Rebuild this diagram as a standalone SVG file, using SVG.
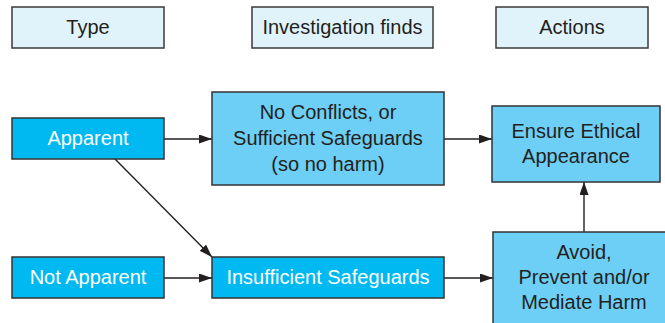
<svg xmlns="http://www.w3.org/2000/svg" width="665" height="323" viewBox="0 0 665 323">
<defs>
<style>
.hdr{fill:#e0f3fb;stroke:#3a3a3a;stroke-width:1.5}
.typ{fill:#00b9f1;stroke:#333;stroke-width:1.5}
.act{fill:#6dcff6;stroke:#333;stroke-width:1.5}
text{font-family:"Liberation Sans",Arial,sans-serif;font-size:20px;text-anchor:middle}
.dk{fill:#231f20}
.wt{fill:#ffffff}
.conn{stroke:#231f20;stroke-width:1.4;fill:none;marker-end:url(#ah)}
</style>
<marker id="ah" viewBox="0 0 13 9" refX="13" refY="4.5" markerWidth="13" markerHeight="9" markerUnits="userSpaceOnUse" orient="auto">
<path d="M0,0 L13,4.5 L0,9 Z" fill="#231f20"/>
</marker>
</defs>
<rect width="665" height="323" fill="#ffffff"/>
<g id="hdr-type"><rect class="hdr" x="12" y="7" width="152" height="41"/><text class="dk" x="88" y="34">Type</text></g>
<g id="hdr-inv"><rect class="hdr" x="252" y="7" width="181" height="41"/><text class="dk" x="342.5" y="34">Investigation finds</text></g>
<g id="hdr-act"><rect class="hdr" x="496" y="7" width="152" height="41"/><text class="dk" x="572" y="34">Actions</text></g>
<g id="connectors">
<line class="conn" x1="164" y1="139" x2="212" y2="139"/>
<line class="conn" x1="444" y1="139" x2="492" y2="139"/>
<line class="conn" x1="115" y1="159" x2="212" y2="257"/>
<line class="conn" x1="164" y1="278" x2="212" y2="278"/>
<line class="conn" x1="444" y1="278" x2="493" y2="278"/>
<line class="conn" x1="584" y1="232" x2="584" y2="182"/>
</g>
<g id="apparent"><rect class="typ" x="12" y="118" width="152" height="41"/><text class="wt" x="88" y="145">Apparent</text></g>
<g id="not-apparent"><rect class="typ" x="12" y="257" width="152" height="41"/><text class="wt" x="88" y="284">Not Apparent</text></g>
<g id="no-conflicts"><rect class="act" x="212" y="92" width="232" height="93"/>
<text class="dk" x="328" y="119">No Conflicts, or</text>
<text class="dk" x="328" y="145">Sufficient Safeguards</text>
<text class="dk" x="328" y="171">(so no harm)</text></g>
<g id="insufficient"><rect class="typ" x="212" y="257" width="232" height="41"/><text class="wt" x="328" y="284">Insufficient Safeguards</text></g>
<g id="ensure"><rect class="act" x="492" y="106" width="168" height="76"/>
<text class="dk" x="576" y="138">Ensure Ethical</text>
<text class="dk" x="576" y="163">Appearance</text></g>
<g id="avoid"><rect class="act" x="493" y="232" width="180" height="100"/>
<text class="dk" x="584" y="259">Avoid,</text>
<text class="dk" x="584" y="284">Prevent and/or</text>
<text class="dk" x="584" y="309">Mediate Harm</text></g>
</svg>
